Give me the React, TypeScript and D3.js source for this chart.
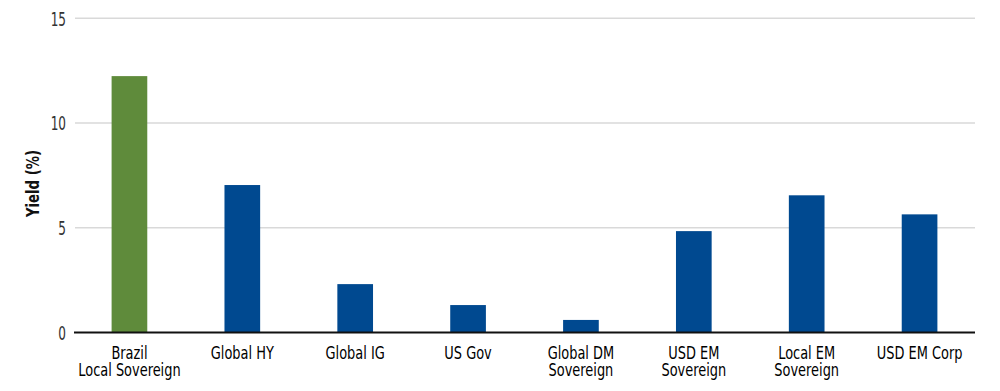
import React, { useEffect, useRef } from "react";
import * as d3 from "d3";

const categories: string[][] = [
  ["Brazil", "Local Sovereign"],
  ["Global HY"],
  ["Global IG"],
  ["US Gov"],
  ["Global DM", "Sovereign"],
  ["USD EM", "Sovereign"],
  ["Local EM", "Sovereign"],
  ["USD EM Corp"],
];
const yields: number[] = [12.24, 7.04, 2.31, 1.31, 0.6, 4.84, 6.55, 5.64];
const highlight: boolean[] = [true, false, false, false, false, false, false, false];
const yTicks: number[] = [0, 5, 10, 15];
const yTitle = "Yield (%)";

const W = 1000;
const H = 391;
const FONT = "'DejaVu Sans Condensed', 'DejaVu Sans', sans-serif";

export default function App() {
  const ref = useRef<SVGSVGElement>(null);
  useEffect(() => {
    const svg = d3.select(ref.current);
    svg.selectAll("*").remove();
    const x = d3
      .scaleBand<number>()
      .domain(d3.range(categories.length))
      .range([73, 976])
      .paddingInner(0.684)
      .paddingOuter(0.342);
    const y = d3.scaleLinear().domain([0, 15]).range([332.5, 18.3]);

    svg
      .append("g")
      .selectAll("line")
      .data(yTicks.filter((t) => t !== 0))
      .join("line")
      .attr("x1", 75)
      .attr("x2", 975)
      .attr("y1", (d) => y(d))
      .attr("y2", (d) => y(d))
      .attr("stroke", "#d9d9d9")
      .attr("stroke-width", 1.5);

    svg
      .append("g")
      .selectAll("text")
      .data(yTicks)
      .join("text")
      .attr("transform", (d) => `translate(66,${y(d)}) scale(0.67,1)`)
      .attr("dy", "0.36em")
      .attr("text-anchor", "end")
      .attr("font-family", FONT)
      .attr("font-size", 20)
      .attr("fill", "#333")
      .text((d) => d);

    svg
      .append("g")
      .selectAll("rect")
      .data(yields)
      .join("rect")
      .attr("x", (_, i) => x(i)!)
      .attr("width", x.bandwidth())
      .attr("y", (d) => y(d))
      .attr("height", (d) => y(0) - y(d))
      .attr("fill", (_, i) => (highlight[i] ? "#5f8b3b" : "#004990"));

    svg
      .append("line")
      .attr("x1", 74)
      .attr("x2", 975)
      .attr("y1", y(0))
      .attr("y2", y(0))
      .attr("stroke", "#111")
      .attr("stroke-width", 2);

    const labels = svg
      .append("g")
      .selectAll("text")
      .data(categories)
      .join("text")
      .attr("transform", (_, i) => `translate(${x(i)! + x.bandwidth() / 2},359) scale(0.8,1)`)
      .attr("text-anchor", "middle")
      .attr("font-family", FONT)
      .attr("font-size", 18)
      .attr("fill", "#000");
    labels
      .selectAll("tspan")
      .data((d) => d)
      .join("tspan")
      .attr("x", 0)
      .attr("dy", (_, j) => (j === 0 ? 0 : 17))
      .text((d) => d);

    svg
      .append("text")
      .attr("transform", `translate(39,183.5) rotate(-90) scale(0.82,1)`)
      .attr("text-anchor", "middle")
      .attr("font-family", FONT)
      .attr("font-size", 18)
      .attr("font-weight", "bold")
      .attr("fill", "#111")
      .text(yTitle);
  }, []);
  return (
    <svg
      ref={ref}
      width={W}
      height={H}
      style={{ position: "absolute", left: 0, top: 0, background: "#fff" }}
    />
  );
}
